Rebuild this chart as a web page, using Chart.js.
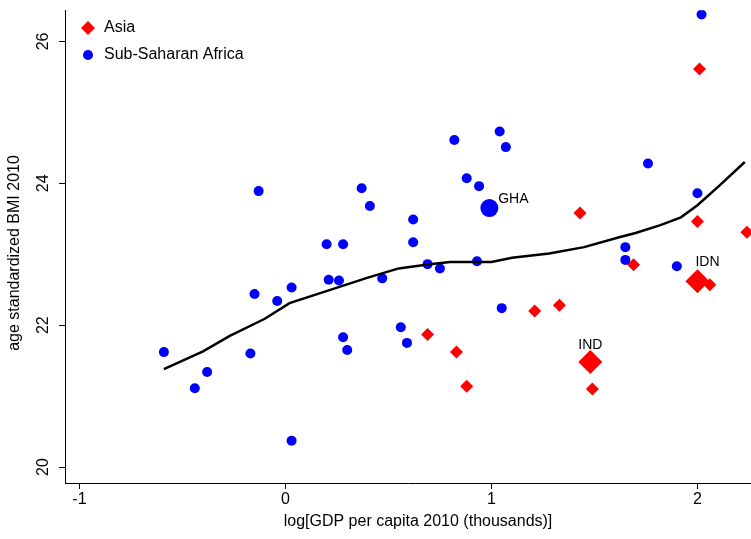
<!DOCTYPE html>
<html>
<head>
<script src="https://cdn.jsdelivr.net/npm/chart.js"></script>
<style>
  body { margin: 0; background: #fff; }
  #wrap { width: 751px; height: 539px; }
</style>
</head>
<body>
<div id="wrap"><canvas id="c"></canvas></div>
<script>
// Sub-Saharan Africa: log GDP, BMI
const africaX = [-0.59,-0.44,-0.38,0.03,-0.17,-0.15,-0.13,-0.04,0.03,0.20,0.28,0.21,0.26,0.28,0.30,0.37,0.41,0.47,0.62,0.62,0.56,0.59,0.69,0.75,0.82,0.88,0.94,0.93,1.04,1.07,1.05,1.76,1.65,1.65,1.90,2.00,2.02];
const africaY = [21.62,21.11,21.34,20.37,21.60,22.44,23.89,22.34,22.53,23.14,23.14,22.64,22.63,21.83,21.65,23.93,23.68,22.66,23.49,23.17,21.97,21.75,22.86,22.80,24.61,24.07,23.96,22.90,24.73,24.51,22.24,24.28,23.10,22.92,22.83,23.86,26.38];
const asiaX = [0.69,0.83,0.88,1.21,1.33,1.43,1.49,1.69,2.00,2.01,2.06,2.24];
const asiaY = [21.87,21.62,21.14,22.20,22.28,23.58,21.10,22.85,23.46,25.61,22.57,23.31];
// labelled countries (larger markers)
const bigLabels = ['GHA','IND','IDN'];
const bigX = [0.99,1.48,2.00];
const bigY = [23.65,21.48,22.62];
const bigGroup = ['africa','asia','asia'];
// lowess fit
const fitX = [-0.59,-0.40,-0.27,-0.10,0.02,0.21,0.40,0.55,0.70,0.80,1.00,1.10,1.28,1.45,1.62,1.70,1.82,1.92,2.00,2.10,2.23];
const fitY = [21.38,21.63,21.85,22.09,22.31,22.49,22.67,22.80,22.86,22.89,22.89,22.95,23.01,23.10,23.24,23.30,23.41,23.52,23.69,23.95,24.30];
const xTicks = [-1,0,1,2];
const yTicks = [20,22,24,26];

const pts = (xs, ys) => xs.map((x, i) => ({x: x, y: ys[i]}));
const bigAfrica = [], bigAsia = [];
bigLabels.forEach((l, i) => (bigGroup[i] === 'africa' ? bigAfrica : bigAsia).push({x: bigX[i], y: bigY[i]}));

const font = 'Liberation Sans, Arial, sans-serif';

const deco = {
  id: 'deco',
  afterDraw(chart) {
    const ctx = chart.ctx, xs = chart.scales.x, ys = chart.scales.y;
    ctx.save();
    ctx.fillStyle = '#000';
    ctx.font = '14px ' + font;
    ctx.textAlign = 'center'; ctx.textBaseline = 'bottom';
    const off = [[24, -2], [0, -10], [10, -12]];
    bigLabels.forEach((l, i) => {
      ctx.fillText(l, xs.getPixelForValue(bigX[i]) + off[i][0], ys.getPixelForValue(bigY[i]) + off[i][1]);
    });
    ctx.font = '16px ' + font;
    yTicks.forEach(v => {
      ctx.save();
      ctx.translate(xs.left - 13, ys.getPixelForValue(v));
      ctx.rotate(-Math.PI / 2);
      ctx.textAlign = 'center'; ctx.textBaseline = 'bottom';
      ctx.fillText(String(v), 0, 0);
      ctx.restore();
    });
    ctx.save();
    ctx.translate(15, 253);
    ctx.rotate(-Math.PI / 2);
    ctx.textAlign = 'center'; ctx.textBaseline = 'middle';
    ctx.fillText('age standardized BMI 2010', 0, 0);
    ctx.restore();
    ctx.textAlign = 'center'; ctx.textBaseline = 'middle';
    ctx.fillText('log[GDP per capita 2010 (thousands)]', 418, 522);
    // legend
    ctx.textAlign = 'left'; ctx.textBaseline = 'middle';
    ctx.fillStyle = '#ff0000';
    ctx.beginPath(); ctx.moveTo(88, 21); ctx.lineTo(95, 28); ctx.lineTo(88, 35); ctx.lineTo(81, 28); ctx.closePath(); ctx.fill();
    ctx.fillStyle = '#0000ff';
    ctx.beginPath(); ctx.arc(88, 55, 5, 0, Math.PI * 2); ctx.fill();
    ctx.fillStyle = '#000';
    ctx.fillText('Asia', 104, 28);
    ctx.fillText('Sub-Saharan Africa', 104, 55);
    ctx.restore();
  }
};

new Chart(document.getElementById('c'), {
  type: 'scatter',
  data: {
    datasets: [
      {data: pts(fitX, fitY), showLine: true, borderColor: '#000', borderWidth: 2.5, pointRadius: 0, order: 0},
      {data: pts(africaX, africaY), backgroundColor: '#0000ff', borderWidth: 0, pointRadius: 5, pointStyle: 'circle'},
      {data: pts(asiaX, asiaY), backgroundColor: '#ff0000', borderWidth: 0, pointRadius: 6.5, pointStyle: 'rectRot'},
      {data: bigAfrica, backgroundColor: '#0000ff', borderWidth: 0, pointRadius: 9, pointStyle: 'circle'},
      {data: bigAsia, backgroundColor: '#ff0000', borderWidth: 0, pointRadius: 12, pointStyle: 'rectRot'}
    ]
  },
  options: {
    responsive: true,
    maintainAspectRatio: false,
    animation: false,
    layout: {autoPadding: false, padding: 0},
    plugins: {legend: {display: false}, tooltip: {enabled: false}},
    scales: {
      x: {
        type: 'linear', min: -1.07, max: 2.26,
        afterBuildTicks: s => { s.ticks = xTicks.map(v => ({value: v})); },
        afterFit: s => { s.height = 56; },
        grid: {drawOnChartArea: false, tickLength: 6, color: '#000'},
        border: {color: '#000', width: 1},
        ticks: {color: '#000', font: {size: 16, family: font}, padding: 1}
      },
      y: {
        type: 'linear', min: 19.775, max: 26.44,
        afterBuildTicks: s => { s.ticks = yTicks.map(v => ({value: v})); },
        afterFit: s => { s.width = 65; },
        grid: {drawOnChartArea: false, tickLength: 6, color: '#000'},
        border: {color: '#000', width: 1},
        ticks: {callback: () => ''}
      }
    }
  },
  plugins: [deco]
});
</script>
</body>
</html>
